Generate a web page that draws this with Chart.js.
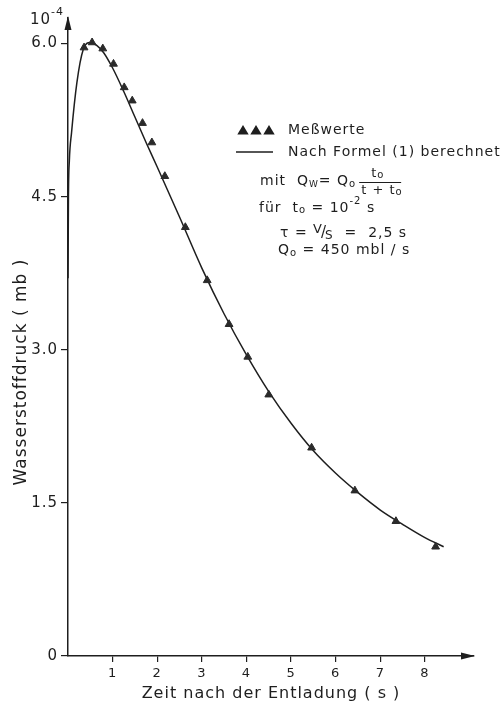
<!DOCTYPE html>
<html>
<head>
<meta charset="utf-8">
<script src="https://cdn.jsdelivr.net/npm/chart.js@4/dist/chart.umd.min.js"></script>
<style>
  body { margin: 0; background: #fff; }
</style>
</head>
<body>
<canvas id="druck" width="501" height="705"></canvas>
<script>
// Messwerte (Dreiecke)
const messZeit = [0.36, 0.54, 0.78, 1.02, 1.26, 1.44, 1.67, 1.88, 2.17, 2.63, 3.12, 3.61, 4.03, 4.50, 5.46, 6.43, 7.35, 8.24]
const messDruck = [5.96, 6.01, 5.95, 5.80, 5.57, 5.44, 5.22, 5.03, 4.70, 4.20, 3.68, 3.25, 2.93, 2.56, 2.04, 1.62, 1.32, 1.07]

// nach Formel (1) berechnete Kurve
const formelZeit = [0, 0.01, 0.03, 0.08, 0.2, 0.34, 0.5, 0.65, 0.8, 1.0, 1.25, 1.5, 1.75, 2.0, 2.5, 3.0, 3.5, 4.0, 4.5, 5.0, 5.5, 6.0, 6.5, 7.0, 7.5, 8.0, 8.42]
const formelDruck = [3.7, 4.5, 4.85, 5.13, 5.62, 5.94, 6.01, 5.98, 5.91, 5.76, 5.53, 5.28, 5.03, 4.79, 4.30, 3.80, 3.35, 2.95, 2.59, 2.28, 2.01, 1.79, 1.60, 1.43, 1.29, 1.16, 1.07]

const xTicks = [1, 2, 3, 4, 5, 6, 7, 8]
const yTicks = [0, 1.5, 3.0, 4.5, 6.0]

const FONT = "'DejaVu Sans', sans-serif"
const INK = "#1e1e1e"

const toPoints = (xs, ys) => xs.map((x, i) => ({ x: x, y: ys[i] }))

// Text mit Hoch-/Tiefstellung: [text, size, dy]
function runs(ctx, x, y, parts) {
  ctx.textBaseline = "middle"
  ctx.textAlign = "left"
  for (const [txt, size, dy] of parts) {
    ctx.font = size + "px " + FONT
    ctx.fillText(txt, x, y + (dy || 0))
    x += ctx.measureText(txt).width
  }
  return x
}

function triangle(ctx, cx, cy, r) {
  ctx.beginPath()
  ctx.moveTo(cx, cy - r)
  ctx.lineTo(cx + r * 0.95, cy + r * 0.6)
  ctx.lineTo(cx - r * 0.95, cy + r * 0.6)
  ctx.closePath()
  ctx.fill()
}

const zeichnung = {
  id: "zeichnung",
  beforeDraw(chart) {
    chart.ctx.letterSpacing = "1px"
  },
  afterDraw(chart) {
    const ctx = chart.ctx
    const xs = chart.scales.x
    const ys = chart.scales.y
    const x0 = xs.getPixelForValue(0)
    const y0 = ys.getPixelForValue(0)
    const top = chart.chartArea.top
    const right = chart.chartArea.right
    ctx.save()
    ctx.letterSpacing = "1px"
    ctx.fillStyle = INK
    ctx.strokeStyle = INK

    // Pfeilspitzen
    ctx.beginPath()
    ctx.moveTo(x0, top - 2)
    ctx.lineTo(x0 + 3.5, top + 12)
    ctx.lineTo(x0 - 3.5, top + 12)
    ctx.closePath()
    ctx.fill()
    ctx.beginPath()
    ctx.moveTo(right + 1, y0)
    ctx.lineTo(right - 13, y0 - 3.5)
    ctx.lineTo(right - 13, y0 + 3.5)
    ctx.closePath()
    ctx.fill()

    // 10^-4
    runs(ctx, 30, 20, [["10", 15, 0], ["-4", 11, -8]])

    // y-Titel
    ctx.save()
    ctx.translate(22, 372)
    ctx.rotate(-Math.PI / 2)
    ctx.font = "17px " + FONT
    ctx.textAlign = "center"
    ctx.textBaseline = "middle"
    ctx.fillText("Wasserstoffdruck ( mb )", 0, 0)
    ctx.restore()

    // Legende
    for (const cx of [243, 256, 269]) triangle(ctx, cx, 131, 6)
    runs(ctx, 288, 130, [["Meßwerte", 14]])
    ctx.lineWidth = 1.4
    ctx.beginPath()
    ctx.moveTo(236, 152)
    ctx.lineTo(273, 152)
    ctx.stroke()
    runs(ctx, 288, 152, [["Nach Formel (1) berechnet", 14]])

    // Formeltext
    let x = runs(ctx, 260, 181, [["mit  Q", 14], ["W", 9, 4], ["= Q", 14], ["o", 10, 3]])
    x += 3
    ctx.lineWidth = 1
    ctx.beginPath()
    ctx.moveTo(x, 182.5)
    ctx.lineTo(x + 42, 182.5)
    ctx.stroke()
    runs(ctx, x + 12, 174, [["t", 13], ["o", 10, 1]])
    runs(ctx, x + 2, 191, [["t + t", 13], ["o", 10, 1]])

    runs(ctx, 259, 208, [["für  t", 14], ["o", 10, 2], [" = 10", 14], ["-2", 10, -7], [" s", 14]])
    x = runs(ctx, 280, 233, [["τ = ", 14], ["V", 13, -3]])
    x = runs(ctx, x - 2, 233, [["/", 15, 0]])
    x = runs(ctx, x - 2, 233, [["S", 12, 3], ["  =  2,5 s", 14]])
    runs(ctx, 278, 250, [["Q", 14], ["o", 10, 3], [" = 450 mbl / s", 14]])
    ctx.restore()
  }
}

new Chart(document.getElementById("druck"), {
  type: "scatter",
  data: {
    datasets: [
      {
        label: "Meßwerte",
        data: toPoints(messZeit, messDruck),
        pointStyle: "triangle",
        pointRadius: 4.5,
        backgroundColor: "#2a2a2a",
        borderColor: "#2a2a2a",
        borderWidth: 1,
        showLine: false,
      },
      {
        label: "Nach Formel (1) berechnet",
        data: toPoints(formelZeit, formelDruck),
        showLine: true,
        pointRadius: 0,
        borderColor: INK,
        borderWidth: 1.5,
        cubicInterpolationMode: "monotone",
      },
    ],
  },
  options: {
    responsive: false,
    animation: false,
    layout: { padding: { top: 18, right: 27, left: 0, bottom: 0 } },
    plugins: {
      legend: { display: false },
      tooltip: { enabled: false },
    },
    scales: {
      x: {
        type: "linear",
        min: 0,
        max: 9.1,
        afterFit: s => { s.height = 49 },
        afterBuildTicks: s => { s.ticks = xTicks.map(v => ({ value: v })) },
        border: { color: INK, width: 1.5 },
        grid: { drawOnChartArea: false, tickLength: 6, color: INK, lineWidth: 1.2 },
        ticks: { color: INK, font: { family: FONT, size: 13 }, padding: 4 },
        title: {
          display: true,
          text: "Zeit nach der Entladung ( s )",
          color: INK,
          font: { family: FONT, size: 16 },
          padding: { top: 0, bottom: 2 },
        },
      },
      y: {
        type: "linear",
        min: 0,
        max: 6.25,
        afterFit: s => { s.width = 68 },
        afterBuildTicks: s => { s.ticks = yTicks.map(v => ({ value: v })) },
        border: { color: INK, width: 1.5 },
        grid: { drawOnChartArea: false, tickLength: 7, color: INK, lineWidth: 1.2 },
        ticks: {
          color: INK,
          font: { family: FONT, size: 15 },
          padding: 3,
          callback: v => v === 0 ? "0" : v.toFixed(1),
        },
      },
    },
  },
  plugins: [zeichnung],
})
</script>
</body>
</html>
